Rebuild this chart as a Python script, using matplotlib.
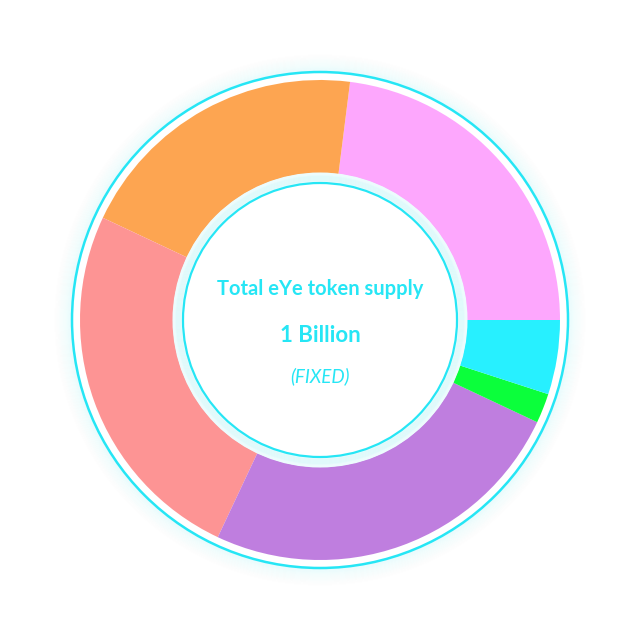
""" Donut chart of the eYe token supply split. """

import numpy as np
import matplotlib.pyplot as plt
from matplotlib.patches import Circle

shares = [23, 20, 25, 25, 2, 5]
colors = ['#fda7fd', '#fda551', '#fd9494', '#bf7edf', '#0bff3b', '#27f0ff']
title_text = "Total eYe token supply"
amount_text = "1 Billion"
note_text = "(FIXED)"

CYAN = '#26e6f5'
PX = 0.72  # points per pixel at dpi 100


def main():
    fig = plt.figure(figsize=(6.4, 6.4), dpi=100)
    ax = fig.add_axes([0, 0, 1, 1])

    # soft glow outside the outer ring
    for i in range(18):
        ax.add_patch(Circle((0, 0), 249 + i, fill=False, lw=1.2 * PX * 1.4,
                            color=CYAN, alpha=0.06 * (1 - i / 18) ** 1.5, zorder=1))

    ax.add_patch(Circle((0, 0), 248, facecolor='white', edgecolor=CYAN, lw=2.5 * PX, zorder=2))

    wedges, _ = ax.pie(shares, colors=colors, radius=240, startangle=0, counterclock=True,
                       wedgeprops=dict(width=93, linewidth=0), center=(0, 0), frame=True)
    for w in wedges:
        w.set_zorder(3)

    ax.set_xlim(-320, 320)
    ax.set_ylim(-320, 320)
    ax.set_aspect('equal')
    ax.axis('off')

    # glow band and inner ring
    ax.add_patch(Circle((0, 0), 147.5, facecolor='#ecfcfd', edgecolor='none', zorder=5))
    for i in range(6):
        ax.add_patch(Circle((0, 0), 144 - i, fill=False, lw=1.4 * PX,
                            color=CYAN, alpha=0.04, zorder=5))
    ax.add_patch(Circle((0, 0), 137, facecolor='white', edgecolor=CYAN, lw=2.2 * PX, zorder=6))

    ax.text(0, 31, title_text, ha='center', va='center', fontsize=14.5, fontweight='bold',
            color=CYAN, family='Lato', zorder=7)
    ax.text(0, -16, amount_text, ha='center', va='center', fontsize=16, fontweight='bold',
            color=CYAN, family='Lato', zorder=7)
    ax.text(0, -56, note_text, ha='center', va='center', fontsize=13.5, style='italic',
            color=CYAN, family='Lato', zorder=7)

    fig.savefig('out.png', dpi=100, facecolor='white')


if __name__ == "__main__":
    main()
